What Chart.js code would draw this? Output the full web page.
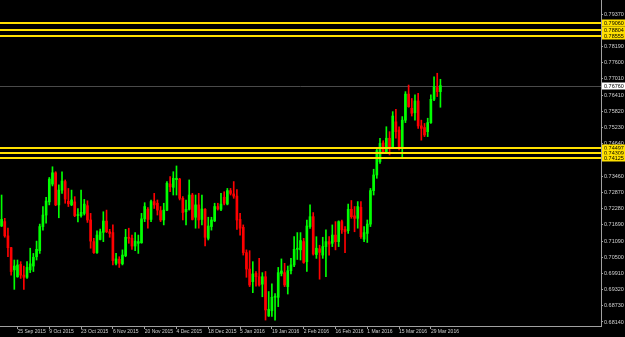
<!DOCTYPE html>
<html>
<head>
<meta charset="utf-8">
<script src="https://cdn.jsdelivr.net/npm/chart.js@4.4.1/dist/chart.umd.min.js"></script>
<style>
  html, body { margin: 0; padding: 0; background: #000; }
  #wrap { width: 625px; height: 337px; }
</style>
</head>
<body>
<div id="wrap"><canvas id="mycanvas"></canvas></div>
<script>
// daily bars, 18 Sep 2015 .. 1 Apr 2016
var openP = [0.7164,0.7180,0.7128,0.7085,0.7004,0.6979,0.7024,0.6985,0.6977,0.7004,
  0.7018,0.7052,0.7074,0.7162,0.7204,0.7252,0.7317,0.7358,0.7241,0.7295,
  0.7326,0.7254,0.7241,0.7252,0.7202,0.7202,0.7210,0.7238,0.7186,0.7107,
  0.7067,0.7115,0.7141,0.7182,0.7143,0.7140,0.7028,0.7043,0.7026,0.7056,
  0.7123,0.7119,0.7091,0.7101,0.7103,0.7190,0.7225,0.7188,0.7253,0.7247,
  0.7220,0.7186,0.7222,0.7317,0.7305,0.7333,0.7335,0.7265,0.7216,0.7225,
  0.7277,0.7196,0.7241,0.7188,0.7225,0.7119,0.7162,0.7183,0.7235,0.7225,
  0.7269,0.7244,0.7293,0.7281,0.7273,0.7188,0.7159,0.7067,0.7007,0.6961,
  0.6991,0.6979,0.6952,0.6979,0.6836,0.6855,0.6904,0.6904,0.6991,0.6994,
  0.6943,0.7001,0.7022,0.7079,0.7077,0.7107,0.7034,0.7162,0.7198,0.7060,
  0.7081,0.7058,0.7089,0.7107,0.7101,0.7131,0.7107,0.7180,0.7152,0.7147,
  0.7225,0.7201,0.7192,0.7232,0.7116,0.7137,0.7171,0.7293,0.7350,0.7399,
  0.7467,0.7435,0.7484,0.7451,0.7544,0.7514,0.7451,0.7550,0.7645,0.7593,
  0.7577,0.7620,0.7529,0.7523,0.7508,0.7541,0.7626,0.7669,0.7654];
var highP = [0.7277,0.7192,0.7156,0.7086,0.7040,0.7040,0.7034,0.7018,0.7034,0.7083,
  0.7064,0.7109,0.7171,0.7235,0.7269,0.7341,0.7380,0.7362,0.7314,0.7362,
  0.7332,0.7301,0.7295,0.7271,0.7228,0.7295,0.7261,0.7256,0.7210,0.7119,
  0.7146,0.7153,0.7216,0.7222,0.7152,0.7168,0.7064,0.7052,0.7077,0.7152,
  0.7156,0.7131,0.7140,0.7131,0.7210,0.7249,0.7231,0.7259,0.7283,0.7259,
  0.7235,0.7247,0.7326,0.7344,0.7362,0.7383,0.7338,0.7271,0.7259,0.7332,
  0.7283,0.7277,0.7283,0.7277,0.7228,0.7196,0.7196,0.7247,0.7247,0.7283,
  0.7289,0.7301,0.7301,0.7326,0.7297,0.7210,0.7168,0.7077,0.7074,0.7034,
  0.6998,0.7046,0.6994,0.6998,0.6925,0.6953,0.6918,0.7013,0.7044,0.7028,
  0.7018,0.7046,0.7125,0.7140,0.7140,0.7119,0.7186,0.7241,0.7213,0.7125,
  0.7094,0.7123,0.7150,0.7125,0.7168,0.7180,0.7183,0.7186,0.7162,0.7244,
  0.7257,0.7235,0.7253,0.7253,0.7162,0.7186,0.7301,0.7371,0.7447,0.7484,
  0.7475,0.7526,0.7508,0.7581,0.7589,0.7526,0.7563,0.7654,0.7678,0.7629,
  0.7642,0.7648,0.7550,0.7538,0.7557,0.7642,0.7708,0.7721,0.7699];
var lowP = [0.7162,0.7123,0.7052,0.6985,0.6933,0.6977,0.6973,0.6933,0.6973,0.6994,
  0.6998,0.7040,0.7064,0.7149,0.7174,0.7241,0.7310,0.7238,0.7194,0.7283,
  0.7247,0.7235,0.7238,0.7198,0.7179,0.7196,0.7204,0.7177,0.7083,0.7064,
  0.7064,0.7113,0.7107,0.7140,0.7123,0.7022,0.7022,0.7013,0.7022,0.7052,
  0.7101,0.7079,0.7074,0.7064,0.7101,0.7180,0.7156,0.7180,0.7228,0.7204,
  0.7180,0.7168,0.7220,0.7289,0.7277,0.7277,0.7259,0.7186,0.7168,0.7222,
  0.7186,0.7156,0.7156,0.7168,0.7091,0.7113,0.7149,0.7180,0.7222,0.7220,
  0.7241,0.7241,0.7277,0.7265,0.7152,0.7131,0.7058,0.6977,0.6943,0.6921,
  0.6945,0.6945,0.6906,0.6821,0.6834,0.6834,0.6821,0.6870,0.6982,0.6943,
  0.6916,0.6989,0.7016,0.7042,0.7040,0.7028,0.6998,0.7155,0.7058,0.7046,
  0.6970,0.7046,0.6979,0.7058,0.7089,0.7077,0.7089,0.7137,0.7067,0.7137,
  0.7192,0.7143,0.7156,0.7119,0.7107,0.7104,0.7162,0.7277,0.7338,0.7392,
  0.7429,0.7432,0.7423,0.7447,0.7484,0.7441,0.7411,0.7541,0.7597,0.7565,
  0.7550,0.7520,0.7477,0.7490,0.7490,0.7538,0.7621,0.7636,0.7597];
var closeP = [0.7188,0.7128,0.7085,0.6998,0.7018,0.7022,0.6985,0.6977,0.7013,0.7026,
  0.7050,0.7079,0.7162,0.7204,0.7255,0.7335,0.7358,0.7241,0.7295,0.7328,
  0.7262,0.7245,0.7259,0.7202,0.7204,0.7214,0.7244,0.7186,0.7109,0.7067,
  0.7131,0.7143,0.7182,0.7143,0.7137,0.7038,0.7044,0.7028,0.7058,0.7123,
  0.7119,0.7091,0.7109,0.7107,0.7190,0.7235,0.7188,0.7253,0.7241,0.7222,
  0.7186,0.7222,0.7320,0.7307,0.7338,0.7338,0.7265,0.7213,0.7225,0.7277,
  0.7188,0.7241,0.7186,0.7226,0.7123,0.7164,0.7186,0.7235,0.7226,0.7244,
  0.7247,0.7293,0.7283,0.7273,0.7186,0.7156,0.7067,0.7007,0.6949,0.6989,
  0.6979,0.6949,0.6979,0.6858,0.6860,0.6904,0.6908,0.6994,0.7000,0.6949,
  0.7001,0.7022,0.7079,0.7083,0.7111,0.7031,0.7164,0.7198,0.7062,0.7083,
  0.7068,0.7089,0.7107,0.7098,0.7131,0.7107,0.7180,0.7150,0.7143,0.7225,
  0.7198,0.7192,0.7235,0.7125,0.7140,0.7171,0.7293,0.7350,0.7439,0.7465,
  0.7435,0.7484,0.7451,0.7565,0.7508,0.7451,0.7550,0.7645,0.7599,0.7575,
  0.7620,0.7529,0.7520,0.7496,0.7541,0.7626,0.7672,0.7654,0.7676];

var dateLabels = ["25 Sep 2015","9 Oct 2015","23 Oct 2015","6 Nov 2015","20 Nov 2015",
  "4 Dec 2015","18 Dec 2015","5 Jan 2016","19 Jan 2016","2 Feb 2016","16 Feb 2016",
  "1 Mar 2016","15 Mar 2016","29 Mar 2016"];
var firstLabelBar = 5, labelStep = 10, totalSlots = 189;

var priceTicks = [0.68140,0.68730,0.69320,0.69910,0.70500,0.71090,0.71690,0.72280,
  0.72870,0.73460,0.74640,0.75230,0.75820,0.76410,0.77010,0.77600,0.78190,0.79370];
var yellowLevels = [0.79060,0.78804,0.78555,0.74497,0.74309,0.74125];
var bidPrice = 0.76760;
var yMin = 0.67994, yMax = 0.79881;

var labels = [];
for (var i = 0; i < totalSlots; i++) {
  var k = (i - firstLabelBar) / labelStep;
  labels.push(k >= 0 && k % 1 === 0 && k < dateLabels.length ? dateLabels[k] : '');
}
var bodies = [], wicks = [];
for (var i = 0; i < openP.length; i++) {
  bodies.push([openP[i], closeP[i]]);
  wicks.push([lowP[i], highP[i]]);
}

function barColor(c) {
  var i = c.dataIndex;
  return closeP[i] >= openP[i] ? '#00ff00' : '#ff0000';
}

var axisColor = '#a0a0a0';
var textColor = '#d0d0d0';

var levels = {
  id: 'levels',
  beforeDatasetsDraw: function(chart) {
    var ctx = chart.ctx, a = chart.chartArea;
    var y = Math.round(chart.scales.y.getPixelForValue(bidPrice)) + 0.5;
    ctx.save();
    ctx.strokeStyle = '#4a4a4a';
    ctx.lineWidth = 1;
    ctx.beginPath(); ctx.moveTo(a.left, y); ctx.lineTo(a.right, y); ctx.stroke();
    ctx.restore();
  },
  afterDatasetsDraw: function(chart) {
    var ctx = chart.ctx, a = chart.chartArea;
    ctx.save();
    ctx.strokeStyle = '#ffe000';
    ctx.lineWidth = 2;
    yellowLevels.forEach(function(v) {
      var y = Math.round(chart.scales.y.getPixelForValue(v));
      ctx.beginPath(); ctx.moveTo(a.left, y); ctx.lineTo(a.right, y); ctx.stroke();
    });
    ctx.restore();
  },
  afterDraw: function(chart) {
    var ctx = chart.ctx, a = chart.chartArea;
    ctx.save();
    ctx.font = '5.5px "Liberation Sans"';
    ctx.textBaseline = 'middle';
    function box(v, fill) {
      var y = Math.round(chart.scales.y.getPixelForValue(v));
      ctx.fillStyle = fill;
      ctx.fillRect(a.right + 1, y - 3.5, 23, 7);
      ctx.fillStyle = '#000';
      ctx.fillText(v.toFixed(5), a.right + 3, y + 0.5);
    }
    yellowLevels.forEach(function(v) { box(v, '#ffe000'); });
    box(bidPrice, '#ffffff');
    ctx.restore();
  }
};

var ctx = document.getElementById('mycanvas');
var Graph = new Chart(ctx, {
  type: 'bar',
  data: {
    labels: labels,
    datasets: [
      {
        data: bodies,
        backgroundColor: barColor,
        barThickness: 2,
        minBarLength: 1,
        grouped: false,
        order: 0
      },
      {
        data: wicks,
        backgroundColor: barColor,
        barThickness: 1,
        grouped: false,
        order: 1
      }
    ]
  },
  options: {
    responsive: true,
    maintainAspectRatio: false,
    animation: false,
    events: [],
    layout: { padding: 0 },
    plugins: { legend: { display: false }, tooltip: { enabled: false } },
    scales: {
      x: {
        type: 'category',
        offset: true,
        grid: { display: true, drawOnChartArea: false, drawTicks: true, tickLength: 3, color: axisColor, offset: false },
        border: { display: true, color: axisColor },
        ticks: { autoSkip: false, maxRotation: 0, align: 'start', padding: 0, color: textColor, font: { family: 'Liberation Sans', size: 5 } },
        afterBuildTicks: function(scale) {
          scale.ticks = scale.ticks.filter(function(t) { return labels[t.value] !== ''; });
        },
        afterFit: function(scale) {
          scale.height = 11;
          scale.paddingLeft = 0; scale.paddingRight = 0;
        }
      },
      y: {
        type: 'linear',
        position: 'right',
        min: yMin,
        max: yMax,
        grid: { display: true, drawOnChartArea: false, drawTicks: true, tickLength: 2, color: axisColor },
        border: { display: true, color: axisColor },
        ticks: {
          padding: 1, color: textColor, font: { family: 'Liberation Sans', size: 5.5 },
          callback: function(v) { return v.toFixed(5); }
        },
        afterBuildTicks: function(scale) {
          scale.ticks = priceTicks.map(function(v) { return { value: v }; });
        },
        afterFit: function(scale) {
          scale.width = 24;
          scale.paddingTop = 0; scale.paddingBottom = 0;
        }
      }
    }
  },
  plugins: [levels]
});
</script>
</body>
</html>
